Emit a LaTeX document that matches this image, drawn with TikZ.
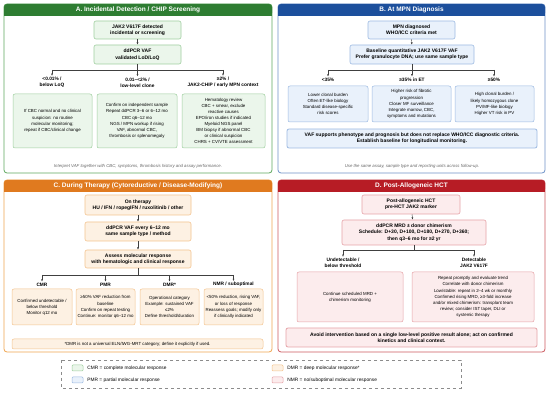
\documentclass[tikz,border=0pt]{standalone}
\usepackage{fontspec}
\setmainfont{Liberation Sans}
\usetikzlibrary{positioning,arrows.meta}
\definecolor{grnD}{HTML}{2E7D32}
\definecolor{grnM}{HTML}{5FA85F}
\definecolor{grnL}{HTML}{9FCF9F}
\definecolor{grnF}{HTML}{EBF6EB}
\definecolor{bluD}{HTML}{1C4F9C}
\definecolor{bluM}{HTML}{6F93C8}
\definecolor{bluL}{HTML}{9DBAE2}
\definecolor{bluF}{HTML}{E9F1FB}
\definecolor{orgD}{HTML}{E07A1F}
\definecolor{orgM}{HTML}{F0A550}
\definecolor{orgL}{HTML}{F4C48F}
\definecolor{orgF}{HTML}{FDF1E3}
\definecolor{redD}{HTML}{B71C25}
\definecolor{redM}{HTML}{CC5A60}
\definecolor{redL}{HTML}{E6A3A8}
\definecolor{redF}{HTML}{FCECED}
\tikzset{
  panel/.style = {rounded corners=3pt, line width=0.8pt, fill=white},
  ttl/.style   = {text=white, inner sep=0pt, font=\fontsize{6.5}{7}\selectfont\bfseries},
  hbox/.style  = {draw, rounded corners=2pt, line width=0.6pt, align=center,
                  inner sep=1pt, font=\fontsize{5}{6.4}\selectfont\bfseries},
  tbox/.style  = {draw, rounded corners=2pt, line width=0.5pt, align=center,
                  inner sep=1pt, font=\fontsize{4.4}{6.1}\selectfont},
  brl/.style   = {align=center, inner sep=1pt, font=\fontsize{4.8}{6.4}\selectfont\bfseries},
  note/.style  = {inner sep=0pt, text=black!60, font=\fontsize{4.3}{5}\selectfont\itshape},
  wire/.style  = {line width=0.45pt, draw=black!75},
  arr/.style   = {wire, -{Latex[length=2.3pt,width=2pt]}},
  cA/.style    = {draw=grnL, fill=grnF},
  cB/.style    = {draw=bluL, fill=bluF},
  cC/.style    = {draw=orgL, fill=orgF},
  cD/.style    = {draw=redL, fill=redF},
  swatch/.style= {draw, rounded corners=1pt, line width=0.5pt, minimum width=11pt,
                  minimum height=6pt, inner sep=0pt},
  lgd/.style   = {anchor=west, inner sep=0pt, font=\fontsize{4.8}{5}\selectfont},
}
\begin{document}
\begin{tikzpicture}[x=1pt,y=-1pt]
  \useasboundingbox[fill=white] (0,0) rectangle (550,393);
  % panel A
  \draw[panel,draw=grnM] (4,4) rectangle (272,173);
  \fill[grnD,rounded corners=3pt] (4,4) rectangle (272,16);
  \fill[grnD] (4,11) rectangle (272,16);
  \node[ttl] (ta) at (138,10) {A. Incidental Detection / CHIP Screening};
  \node[hbox,cA,minimum width=87pt,minimum height=18pt] (a1) at (137.5,30)
    {JAK2 V617F detected\\incidental or screening};
  \node[hbox,cA,minimum width=87pt,minimum height=19pt] (a2) at (137.5,54.5)
    {ddPCR VAF\\validated LoD/LoQ};
  \draw[arr] (a1) -- (a2);
  \coordinate (aj) at (137.5,70);
  \node[brl] (aL) at (52,82.5) {<0.01\% /\\below LoQ};
  \node[brl] (aM) at (137.5,82.5) {0.01–<2\% /\\low-level clone};
  \node[brl] (aR) at (223,82.5) {≥2\% /\\JAK2-CHIP / early MPN context};
  \draw[wire] (a2) -- (aj);
  \draw[wire] (aL.north |- aj) -- (aR.north |- aj);
  \foreach \n in {aL,aM,aR} \draw[arr] (\n.north |- aj) -- (\n.north);
  \node[tbox,cA,minimum width=79pt,minimum height=54pt] (a3) at (52.5,121)
    {If CBC normal and no clinical\\suspicion: no routine\\molecular monitoring;\\repeat if CBC/clinical change};
  \node[tbox,cA,minimum width=80pt,minimum height=54pt] (a4) at (137,121)
    {Confirm on independent sample\\Repeat ddPCR 3–6 or 6–12 mo\\CBC q6–12 mo\\NGS / MPN workup if rising\\VAF, abnormal CBC,\\thrombosis or splenomegaly};
  \node[tbox,cA,minimum width=83pt,minimum height=54pt] (a5) at (223.5,121)
    {Hematology review\\CBC + smear, exclude\\reactive causes\\EPO/iron studies if indicated\\Myeloid NGS panel\\BM biopsy if abnormal CBC\\or clinical suspicion\\CHRS + CV/VTE assessment};
  \node[note] (fa) at (138,166)
    {Interpret VAF together with CBC, symptoms, thrombosis history and assay performance.};
  % panel B
  \draw[panel,draw=bluM] (278,4) rectangle (545,173);
  \fill[bluD,rounded corners=3pt] (278,4) rectangle (545,16);
  \fill[bluD] (278,11) rectangle (545,16);
  \node[ttl] (tb) at (411.5,10) {B. At MPN Diagnosis};
  \node[hbox,cB,minimum width=87pt,minimum height=18pt] (b1) at (411.5,30)
    {MPN diagnosed\\WHO/ICC criteria met};
  \node[hbox,cB,minimum width=124pt,minimum height=19pt] (b2) at (412,54.5)
    {Baseline quantitative JAK2 V617F VAF\\Prefer granulocyte DNA; use same sample type};
  \draw[arr] (b1) -- (b2);
  \coordinate (bj) at (412,70);
  \node[brl] (bL) at (328,79.5) {<35\%};
  \node[brl] (bM) at (412,79.5) {≥35\% in ET};
  \node[brl] (bR) at (494,79.5) {≥50\%};
  \draw[wire] (b2) -- (bj);
  \draw[wire] (bL.north |- bj) -- (bR.north |- bj);
  \foreach \n in {bL,bM,bR} \draw[arr] (\n.north |- bj) -- (\n.north);
  \node[tbox,cB,minimum width=80pt,minimum height=36pt] (b3) at (328,104)
    {Lower clonal burden\\Often ET-like biology\\Standard disease-specific\\risk scores};
  \node[tbox,cB,minimum width=79pt,minimum height=36pt] (b4) at (411.5,104)
    {Higher risk of fibrotic\\progression\\Closer MF surveillance\\Integrate marrow, CBC,\\symptoms and mutations};
  \node[tbox,cB,minimum width=79pt,minimum height=36pt] (b5) at (494.5,104)
    {High clonal burden /\\likely homozygous clone\\PV/MF-like biology\\Higher VT risk in PV};
  \node[hbox,cB,line width=0.8pt,minimum width=250pt,minimum height=19pt] (b6) at (412,138.5)
    {VAF supports phenotype and prognosis but does not replace WHO/ICC diagnostic criteria.\\Establish baseline for longitudinal monitoring.};
  \node[note] (fb) at (412,166)
    {Use the same assay, sample type and reporting units across follow-up.};
  % panel C
  \draw[panel,draw=orgM] (4,180) rectangle (272,352);
  \fill[orgD,rounded corners=3pt] (4,180) rectangle (272,192);
  \fill[orgD] (4,187) rectangle (272,192);
  \node[ttl] (tc) at (138,186) {C. During Therapy (Cytoreductive / Disease-Modifying)};
  \node[hbox,cC,minimum width=106pt,minimum height=20pt] (c1) at (138,205)
    {On therapy\\HU / IFN / ropegIFN / ruxolitinib / other};
  \node[hbox,cC,minimum width=106pt,minimum height=19pt] (c2) at (138,231.5)
    {ddPCR VAF every 6–12 mo\\same sample type / method};
  \node[hbox,cC,minimum width=106pt,minimum height=18pt] (c3) at (138,259)
    {Assess molecular response\\with hematologic and clinical response};
  \draw[arr] (c1) -- (c2);
  \draw[arr] (c2) -- (c3);
  \coordinate (cj) at (138,275);
  \node[brl] (cL1) at (42,284.5) {CMR};
  \node[brl] (cL2) at (105.5,284.5) {PMR};
  \node[brl] (cL3) at (169.5,284.5) {DMR*};
  \node[brl] (cL4) at (233.5,284.5) {NMR / suboptimal};
  \draw[wire] (c3) -- (cj);
  \draw[wire] (cL1.north |- cj) -- (cL4.north |- cj);
  \foreach \n in {cL1,cL2,cL3,cL4} \draw[arr] (\n.north |- cj) -- (\n.north);
  \node[tbox,cC,minimum width=60pt,minimum height=36pt] (c4) at (42,307)
    {Confirmed undetectable /\\below threshold\\Monitor q12 mo};
  \node[tbox,cC,minimum width=59pt,minimum height=36pt] (c5) at (105.5,307)
    {≥50\% VAF reduction from\\baseline\\Confirm on repeat testing\\Continue: monitor q6–12 mo};
  \node[tbox,cC,minimum width=59pt,minimum height=36pt] (c6) at (169.5,307)
    {Operational category\\Example: sustained VAF\\≤2\%\\Define threshold/duration};
  \node[tbox,cC,minimum width=59pt,minimum height=36pt] (c7) at (233.5,307)
    {<50\% reduction, rising VAF,\\or loss of response\\Reassess goals; modify only\\if clinically indicated};
  \node[tbox,cC,minimum width=251pt,minimum height=10pt] (c8) at (137.5,344)
    {*DMR is not a universal ELN/IWG-MRT category; define it explicitly if used.};
  % panel D
  \draw[panel,draw=redM] (278,180) rectangle (545,352);
  \fill[redD,rounded corners=3pt] (278,180) rectangle (545,192);
  \fill[redD] (278,187) rectangle (545,192);
  \node[ttl] (td) at (411.5,186) {D. Post-Allogeneic HCT};
  \node[hbox,cD,minimum width=98pt,minimum height=19pt] (d1) at (411,204.5)
    {Post-allogeneic HCT\\pre-HCT JAK2 marker};
  \node[hbox,cD,minimum width=144pt,minimum height=25pt] (d2) at (414,232.5)
    {ddPCR MRD ± donor chimerism\\Schedule: D+30, D+100, D+180, D+270, D+360;\\then q3–6 mo for ≥2 yr};
  \draw[arr] (d1) -- (d2);
  \coordinate (dj) at (414,250);
  \node[brl] (dL) at (343,263) {Undetectable /\\below threshold};
  \node[brl] (dR) at (474,263) {Detectable\\JAK2 V617F};
  \draw[wire] (d2) -- (dj);
  \draw[wire] (dL.north |- dj) -- (dR.north |- dj);
  \foreach \n in {dL,dR} \draw[arr] (\n.north |- dj) -- (\n.north);
  \node[tbox,cD,minimum width=106pt,minimum height=50pt] (d3) at (350,297)
    {Continue scheduled MRD +\\chimerism monitoring};
  \node[tbox,cD,minimum width=122pt,minimum height=50pt] (d4) at (473,297)
    {Repeat promptly and evaluate trend\\Correlate with donor chimerism\\Low/stable: repeat in 2–4 wk or monthly\\Confirmed rising MRD, ≥3-fold increase\\and/or mixed chimerism: transplant team\\review; consider IST taper, DLI or\\systemic therapy};
  \node[hbox,cD,line width=0.8pt,minimum width=251pt,minimum height=19pt] (d5) at (411.5,337.5)
    {Avoid intervention based on a single low-level positive result alone; act on confirmed\\kinetics and clinical context.};
  % legend
  \draw[dashed,draw=black!45,line width=0.5pt] (61,360) rectangle (461,388);
  \node[swatch,cA] (kA) at (77.5,368) {};
  \node[swatch,cB] (kB) at (77.5,380) {};
  \node[swatch,cC] (kC) at (277.5,368) {};
  \node[swatch,cD] (kD) at (277.5,380) {};
  \node[lgd,right=4pt of kA] (lA) {CMR = complete molecular response};
  \node[lgd,right=4pt of kB] (lB) {PMR = partial molecular response};
  \node[lgd,right=4pt of kC] (lC) {DMR = deep molecular response*};
  \node[lgd,right=4pt of kD] (lD) {NMR = no/suboptimal molecular response};
\end{tikzpicture}
\end{document}
